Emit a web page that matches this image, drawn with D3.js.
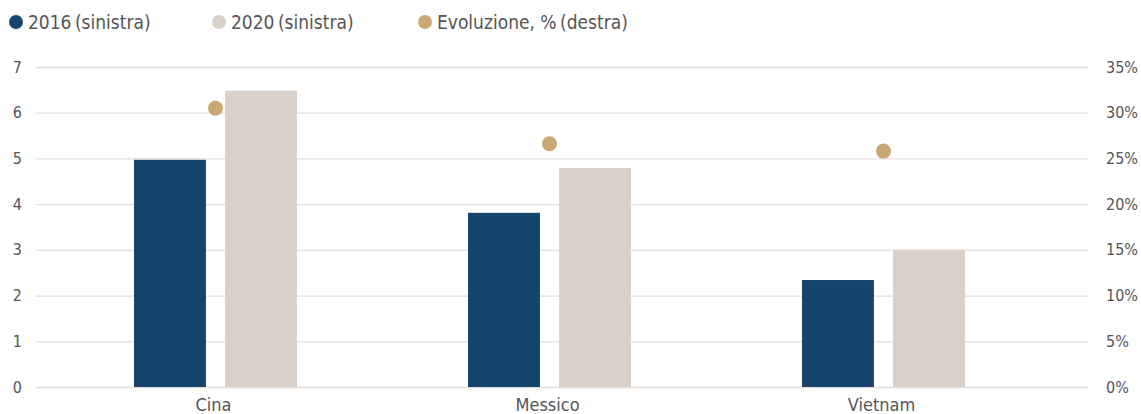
<!DOCTYPE html>
<html>
<head>
<meta charset="utf-8">
<script src="https://cdn.jsdelivr.net/npm/d3@7"></script>
<style>
  body { margin: 0; background: #fff; }
  svg text { font-family: "Liberation Sans Narrow", "DejaVu Sans Condensed", Roboto, sans-serif; fill: #555; }
</style>
</head>
<body>
<svg width="1141" height="414"></svg>
<script>
var categories = ["Cina", "Messico", "Vietnam"];
var series = ["2016 (sinistra)", "2020 (sinistra)"];
var values2016 = [4.97, 3.81, 2.34];
var values2020 = [6.48, 4.79, 3.0];
var evoluzione = [30.5, 26.6, 25.8];
var leftTicks = [0, 1, 2, 3, 4, 5, 6, 7];
var rightTicks = [0, 5, 10, 15, 20, 25, 30, 35];
var legendLabels = ["2016\u2009(sinistra)", "2020\u2009(sinistra)", "Evoluzione, %\u2009(destra)"];

var colors = ["#15456c", "#d8d0c9", "#c9a873"];

var svg = d3.select("svg"),
    width = +svg.attr("width"),
    height = +svg.attr("height");

var plotLeft = 36, plotRight = 1088, plotTop = 67, plotBottom = 387;

var x = d3.scaleBand().domain(categories).range([48.5, 1050.5]).padding(0);
var xInner = d3.scaleBand().domain(series).range([-81.5, 81.5]).paddingInner(0.21).paddingOuter(0);
var y = d3.scaleLinear().domain([0, 7]).range([plotBottom, plotTop]);
var y2 = d3.scaleLinear().domain([0, 35]).range([plotBottom, plotTop]);

// grid lines
svg.append("g")
    .selectAll("line")
    .data(leftTicks)
    .enter().append("line")
    .attr("x1", plotLeft)
    .attr("x2", plotRight)
    .attr("y1", function (d) { return y(d) + 0.5; })
    .attr("y2", function (d) { return y(d) + 0.5; })
    .attr("stroke", "#e4dfda")
    .attr("stroke-width", 1.3);

// left axis
var yAxis = svg.append("g")
    .attr("transform", "translate(" + plotLeft + ",0)")
    .call(d3.axisLeft(y).tickValues(leftTicks).tickSize(0).tickPadding(14).tickFormat(d3.format("d")));
yAxis.select(".domain").remove();
yAxis.selectAll("text").attr("font-size", 16).style("fill", "#555");

// right axis
var yAxis2 = svg.append("g")
    .attr("transform", "translate(" + plotRight + ",0)")
    .call(d3.axisRight(y2).tickValues(rightTicks).tickSize(0).tickPadding(18)
        .tickFormat(function (d) { return d + "%"; }));
yAxis2.select(".domain").remove();
yAxis2.selectAll("text").attr("font-size", 16).style("fill", "#555");

// bars
var rows = categories.map(function (c, i) {
    return { cat: c, vals: [values2016[i], values2020[i]], evo: evoluzione[i] };
});

var groups = svg.append("g")
    .selectAll("g")
    .data(rows)
    .enter().append("g")
    .attr("transform", function (d) { return "translate(" + (x(d.cat) + x.bandwidth() / 2) + ",0)"; });

groups.selectAll("rect")
    .data(function (d) { return d.vals.map(function (v, j) { return { s: series[j], v: v, j: j }; }); })
    .enter().append("rect")
    .attr("x", function (d) { return xInner(d.s); })
    .attr("width", xInner.bandwidth())
    .attr("y", function (d) { return y(d.v); })
    .attr("height", function (d) { return y(0) - y(d.v); })
    .attr("fill", function (d) { return colors[d.j]; });

groups.append("circle")
    .attr("cx", 0)
    .attr("cy", function (d) { return y2(d.evo); })
    .attr("r", 7.5)
    .attr("fill", colors[2]);

// x labels
svg.append("g")
    .selectAll("text")
    .data(categories)
    .enter().append("text")
    .attr("x", function (d) { return x(d) + x.bandwidth() / 2 - 2; })
    .attr("y", 411)
    .attr("text-anchor", "middle")
    .attr("font-size", 18)
    .text(function (d) { return d; });

// legend
var legendX = [16, 219, 425];
var legend = svg.append("g")
    .selectAll("g")
    .data(legendLabels)
    .enter().append("g")
    .attr("transform", function (d, i) { return "translate(" + legendX[i] + ",22)"; });

legend.append("circle")
    .attr("r", 7)
    .attr("fill", function (d, i) { return colors[i]; });

legend.append("text")
    .attr("x", 12)
    .attr("dy", "0.35em")
    .attr("font-size", 19)
    .text(function (d) { return d; });
</script>
</body>
</html>
